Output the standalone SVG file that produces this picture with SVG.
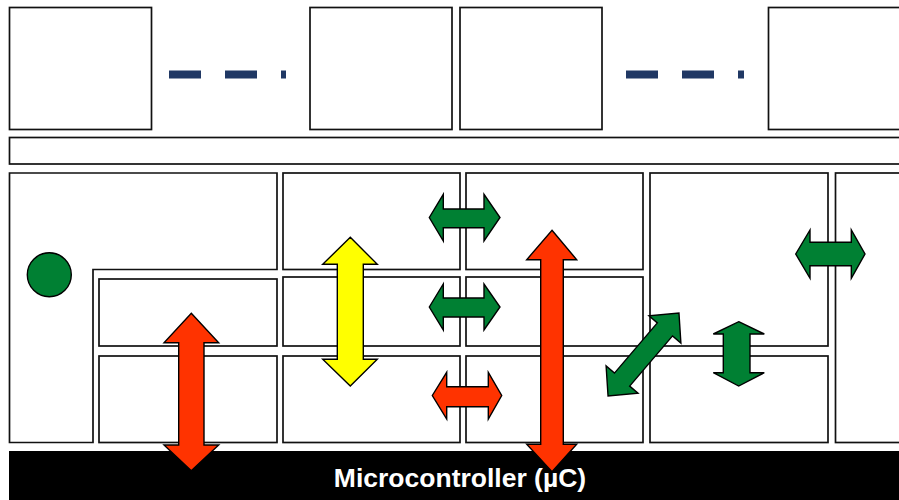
<svg xmlns="http://www.w3.org/2000/svg" width="899" height="500" viewBox="0 0 899 500">
<style>
.box{fill:#fff;stroke:#111;stroke-width:1.7}
.dash{stroke:#203864;stroke-width:8;stroke-dasharray:32 24;fill:none}
.arr{stroke:#000;stroke-width:1.4;stroke-linejoin:miter}
.red{fill:#FF3300}
.yel{fill:#FFFF00}
.grn{fill:#008033}
.lbl{font-family:"Liberation Sans",Arial,sans-serif;font-weight:bold;font-size:26.5px;fill:#fff}
</style>
<rect width="899" height="500" fill="#fff"/>
<g id="top-row">
  <rect id="t1" class="box" x="9.5" y="7.5" width="142" height="122"/>
  <rect id="t2" class="box" x="310" y="7.5" width="142" height="122"/>
  <rect id="t3" class="box" x="460" y="7.5" width="142" height="122"/>
  <rect id="t4" class="box" x="768.5" y="7.5" width="142" height="122"/>
  <line class="dash" x1="169" y1="74.5" x2="286" y2="74.5"/>
  <line class="dash" x1="626" y1="74.5" x2="744" y2="74.5"/>
</g>
<g id="bus-bar"><rect class="box" x="9.5" y="137.5" width="900" height="26.5"/></g>
<g id="grid">
  <polygon id="lshape" class="box" points="9.5,173 277,173 277,269.5 93,269.5 93,442.5 9.5,442.5"/>
  <rect class="box" x="99" y="279" width="178" height="67"/>
  <rect class="box" x="99" y="356" width="178" height="86.5"/>
  <rect class="box" x="283" y="173" width="177" height="96.5"/>
  <rect class="box" x="283" y="277" width="177" height="69"/>
  <rect class="box" x="283" y="356" width="177" height="86.5"/>
  <rect class="box" x="466" y="173" width="177" height="96.5"/>
  <rect class="box" x="466" y="277" width="177" height="69"/>
  <rect class="box" x="466" y="356" width="177" height="86.5"/>
  <rect class="box" x="650" y="173" width="178" height="173"/>
  <rect class="box" x="650" y="356" width="178" height="86.5"/>
  <rect class="box" x="835.5" y="173" width="80" height="269.5"/>
</g>
<g id="dot"><circle class="arr grn" cx="49.3" cy="274.7" r="22"/></g>
<g id="mcu">
  <rect x="9" y="451" width="891" height="49" fill="#000"/>
  <text class="lbl" x="460" y="487" text-anchor="middle">Microcontroller (µC)</text>
</g>
<g id="connectors">
  <path class="arr red" d="M191.3,313.3 L218.7,342.7 L204,342.7 L204,445 L218.7,445 L191.3,470.7 L164,445 L178.7,445 L178.7,342.7 L164,342.7 Z"/>
  <path class="arr yel" d="M350.3,237.3 L377.3,264.3 L363.3,264.3 L363.3,359.3 L377.3,359.3 L350.3,386 L322.7,359.3 L337.3,359.3 L337.3,264.3 L322.7,264.3 Z"/>
  <path class="arr red" d="M552,230.3 L576.7,259.7 L563.3,259.7 L563.3,444.3 L576.7,444.3 L552,471.7 L526.7,444.3 L540.7,444.3 L540.7,259.7 L526.7,259.7 Z"/>
  <path class="arr grn" d="M738.7,321.7 L764.3,334 L750,334 L750,372.7 L764.3,372.7 L738.7,386 L713.3,372.7 L723.3,372.7 L723.3,334 L713.3,334 Z"/>
  <path class="arr grn" d="M429.3,217.5 L443.3,194.3 L443.3,209 L484,209 L484,194.3 L500,217.5 L484,241 L484,227.7 L443.3,227.7 L443.3,241 Z"/>
  <path class="arr grn" d="M429.3,307 L443.3,284 L443.3,298 L484,298 L484,284 L500,307 L484,330 L484,317 L443.3,317 L443.3,330 Z"/>
  <path class="arr red" d="M432.3,395.5 L446.7,372.3 L446.7,386.7 L488.3,386.7 L488.3,372.3 L501.7,395.5 L488.3,419 L488.3,406.7 L446.7,406.7 L446.7,419 Z"/>
  <path class="arr grn" d="M795.7,254 L810,230 L810,242.3 L851.3,242.3 L851.3,230 L865,254 L851.3,278.3 L851.3,265.7 L810,265.7 L810,278.3 Z"/>
  <path class="arr grn" transform="translate(643.5,354.5) rotate(-49.5)" d="M-54.6,0 L-33,-21 L-33,-10 L33,-10 L33,-21 L54.6,0 L33,21 L33,10 L-33,10 L-33,21 Z"/>
</g>
</svg>
